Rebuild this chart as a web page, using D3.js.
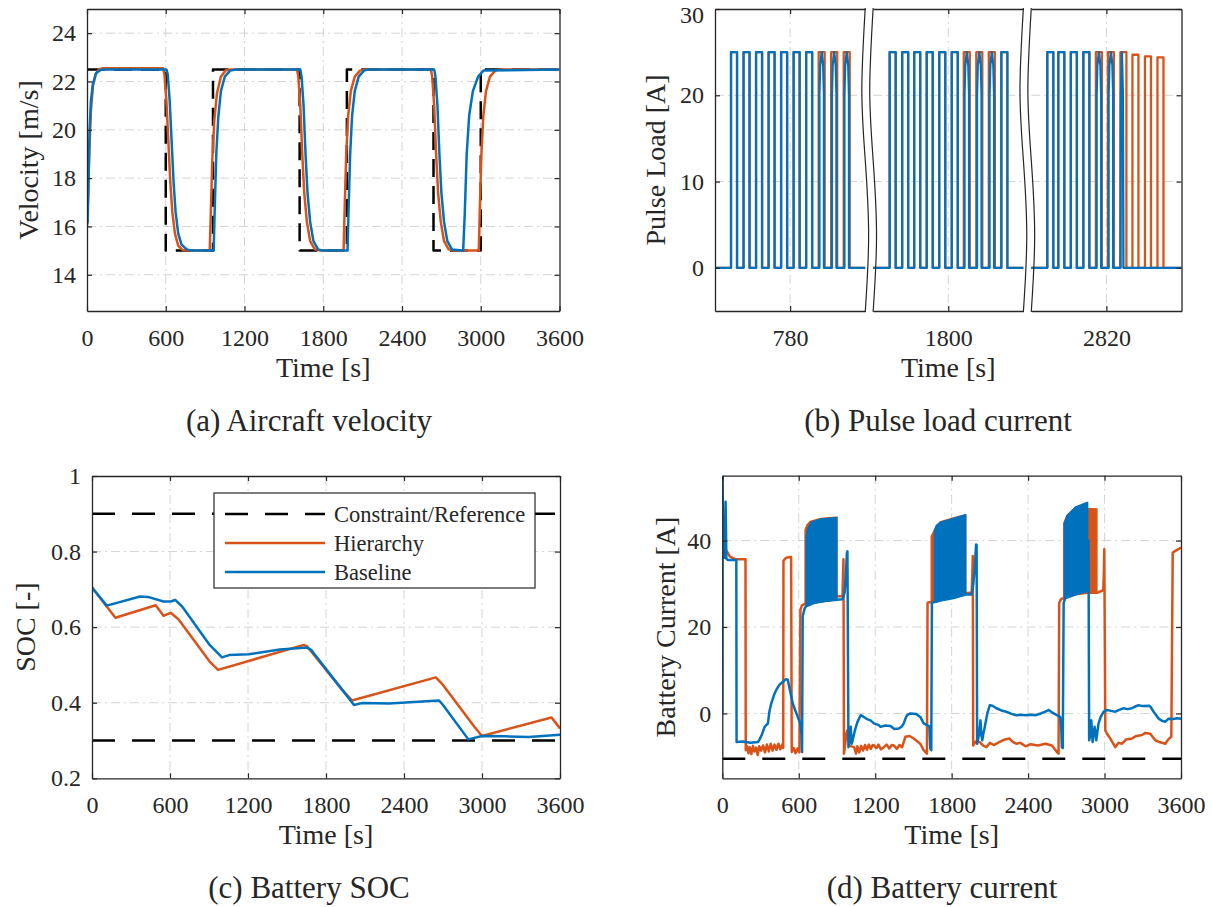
<!DOCTYPE html>
<html><head><meta charset="utf-8">
<script src="https://cdn.jsdelivr.net/npm/d3@7"></script>
<style>
html,body{margin:0;padding:0;background:#fff;}
svg text{font-family:"Liberation Serif","Times New Roman",serif;fill:#262626;}
</style></head><body><script>
// ===================== DATA =====================
const timeTicks = [0,600,1200,1800,2400,3000,3600];
const timeTickLabels = ["0","600","1200","1800","2400","3000","3600"];
const velTicks = [14,16,18,20,22,24];
const pulseTicks = [0,10,20,30];
const socTicks = [0.2,0.4,0.6,0.8,1];
const socTickLabels = ["0.2","0.4","0.6","0.8","1"];
const curTicks = [0,20,40];

// (a) velocity
const velRefT = [0,600,600,960,960,1620,1620,1980,1980,2640,2640,3000,3000,3600];
const velRef  = [22.5,22.5,15,15,22.5,22.5,15,15,22.5,22.5,15,15,22.5,22.5];
const velHierT = [0,8,18,30,45,65,90,120,580,590,605,620,635,650,670,695,730,770,935,942,955,970,990,1020,1060,1100,1600,1610,1625,1640,1655,1675,1700,1735,1780,1955,1962,1975,1990,2010,2040,2080,2120,2620,2630,2645,2660,2675,2695,2720,2755,2800,2985,2992,3005,3020,3040,3070,3110,3150,3600];
const velHier  = [16.0,17.2,19.2,20.8,21.8,22.3,22.5,22.55,22.55,22.3,21.2,19.5,17.8,16.6,15.7,15.2,15.02,15,15,16.3,18.8,20.4,21.5,22.2,22.48,22.5,22.5,22.2,21,19,17.4,16.2,15.4,15.05,15,15,16.5,19,20.6,21.6,22.2,22.45,22.5,22.5,22.2,21,19,17.4,16.2,15.4,15.05,15,15,16.5,19,20.6,21.6,22.2,22.45,22.5,22.5];
const velBaseT = [0,5,12,20,30,45,70,104,130,605,615,630,645,660,675,695,720,760,800,965,972,985,1000,1020,1050,1090,1140,1625,1635,1650,1665,1680,1700,1725,1760,1800,1985,1992,2005,2020,2040,2070,2110,2150,2645,2655,2670,2685,2700,2720,2745,2780,2860,2866,2878,2893,2912,2940,2980,3020,3600];
const velBase  = [16.1,16.2,18,20,21.2,21.9,22.35,22.48,22.5,22.5,22.3,21.2,19.5,17.8,16.6,15.7,15.25,15.05,15,15,16.5,19,20.5,21.6,22.2,22.45,22.5,22.5,22.2,21,19,17.4,16.2,15.4,15.05,15,15,16.5,19,20.6,21.6,22.2,22.45,22.5,22.5,22.2,21,19,17.4,16.2,15.4,15.05,15,15,16.5,19,20.6,21.6,22.2,22.45,22.5];

// (b) pulse load
const pulseWindowCenters = [780,1800,2820];
const pulseWindowTickLabels = ["780","1800","2820"];
const pulseWindowHalf = 150;
const pulseOnTime = 12;
const pulseHierStarts = [662,687,712,737,762,787,812,837,862,887, 1683,1708,1732,1757,1782,1807,1831,1856,1881,1906, 2702,2724,2749,2774,2799,2823,2848,2872,2897,2922];
const pulseHierTops   = [25,25,25,25,25,25,25,25,25,25, 25,25,25,25,25,25,25,25,25,25, 25,25,25,25,25,25,25,24.7,24.5,24.4];
const pulseHierShapes = Array(30).fill("flat");
const pulseBaseStarts = [662,687,712,737,762,787,812,837,862,887, 1683,1708,1732,1757,1782,1807,1831,1856,1881,1906, 2702,2724,2749,2774,2799,2823,2848];
const pulseBaseTops   = [25,25,25,25,25,25,25,25,25,25, 25,25,25,25,25,25,25,25,25,25, 25,25,25,25,25,25,25];
const pulseBaseShapes = ["flat","flat","flat","flat","flat","flat","flat","arch","arch","arch",
                         "flat","flat","flat","flat","flat","flat","arch","arch","arch","flat",
                         "flat","flat","flat","flat","arch","arch","spike"];

// (c) SOC
const socLimits = [0.9,0.3];
const socHierT = [0,180,490,550,605,665,905,970,1630,1655,1925,2000,2645,2700,2940,3000,3535,3600];
const socHier  = [0.705,0.625,0.658,0.630,0.638,0.621,0.509,0.487,0.553,0.549,0.434,0.406,0.467,0.447,0.337,0.312,0.361,0.332];
const socBaseT = [0,114,370,430,550,605,640,695,905,1000,1055,1205,1445,1655,1685,1925,2015,2075,2285,2670,2700,2895,3000,3180,3360,3600];
const socBase  = [0.705,0.657,0.681,0.680,0.668,0.668,0.672,0.654,0.553,0.520,0.526,0.528,0.541,0.546,0.540,0.434,0.394,0.399,0.398,0.406,0.394,0.303,0.312,0.311,0.309,0.315];
const legendLabels = ["Constraint/Reference","Hierarchy","Baseline"];

// (d) battery current
const curLimit = -10.5;
const curHierT = [0,10,34,60,99,182,184,195,205,215,228,240,252,265,278,290,305,320,335,350,365,380,395,410,425,440,455,470,478,480,500,540,545,560,575,590,605,613,625,645,660,720,826,904,943,951,955,965,975,982,990,1000,1034,1050,1060,1075,1090,1105,1120,1135,1150,1165,1180,1190,1210,1225,1245,1268,1290,1310,1330,1346,1370,1390,1411,1437,1470,1502,1554,1580,1606,1611,1637,1700,1814,1910,1958,1966,1969,1990,2021,2045,2073,2100,2130,2177,2210,2255,2280,2307,2340,2380,2420,2476,2535,2587,2626,2639,2644,2660,2770,2867,2940,2990,2995,2998,3006,3019,3045,3084,3110,3137,3170,3215,3250,3294,3320,3359,3380,3398,3430,3477,3500,3524,3535,3556,3600];
const curHier  = [38.8,38.3,37.6,36.3,35.7,35.7,-8.5,-7.6,-9.2,-7.8,-9.4,-7.5,-8.8,-7.9,-9.6,-7.6,-8.6,-7.4,-9.0,-7.2,-8.8,-7.0,-8.6,-7.2,-8.4,-7.0,-8.3,-7.2,-8,35.3,36,36.2,-8.9,-8,-9.2,-8.1,-9,24,25,25.3,25.5,26.2,26.8,27.1,27.1,35.7,-9.3,-7,-4.5,-3.9,-6,-7.5,-7.8,-9.3,-7.6,-9,-7.5,-8.6,-7.3,-8.4,-7.2,-8.2,-7.3,-7.4,-8,-7.2,-8.3,-7.8,-7.2,-8.1,-7.3,-7.4,-8.2,-7.3,-7.8,-5.4,-5.2,-5.8,-7,-8.5,-9.3,25.6,25.8,26.4,27,27.8,28,36.4,-7.4,-6.5,-6.6,-7.4,-7.8,-6.8,-7.3,-6.6,-6.1,-5.8,-6.6,-7,-6.8,-7.6,-7.1,-7.4,-7,-7.4,-8.9,-9.3,25.6,26.5,27.6,27.9,27.9,28.5,33,38,-3.9,-4.7,-5.8,-7.8,-6.8,-7,-6,-5.8,-5.2,-5,-4.5,-4.7,-5.5,-6.2,-6.6,-7,-6,-5.4,37.2,37.6,38.4];
const curBaseT = [0,2,8,20,26,32,45,110,112,160,220,280,293,312,332,358,370,384,405,423,445,462,485,501,514,530,553,575,592,613,622,626,631,645,657,722,826,899,943,960,969,978,982,990,1002,1008,1015,1021,1040,1060,1086,1110,1135,1163,1190,1228,1242,1280,1320,1350,1385,1410,1424,1440,1450,1476,1520,1554,1580,1606,1625,1632,1640,1645,1710,1814,1910,1956,1970,1982,1992,1996,2000,2010,2016,2026,2033,2040,2050,2060,2080,2099,2120,2151,2190,2229,2270,2307,2340,2385,2420,2456,2500,2535,2561,2590,2626,2652,2660,2665,2672,2679,2692,2770,2862,2866,2874,2879,2888,2896,2906,2915,2922,2935,2945,2953,2970,2993,3019,3050,3084,3120,3150,3180,3215,3240,3268,3300,3346,3360,3385,3405,3425,3450,3477,3503,3540,3570,3600];
const curBase  = [0,55,36,36,49,35.8,35.5,35.5,-6.6,-6.5,-6.8,-6.6,-6.0,-4.8,-3.1,-2.3,0.5,2.3,4.2,5.4,6.5,7,7.6,7.9,7.8,5.5,2.3,0.5,-0.8,-2.3,-5,-8.9,22.5,24.2,24.8,25.6,26.1,26.3,26.4,28,31.8,37.2,37.5,-7.8,-5,-3.1,-7,-6.5,-4,-2,-0.4,-0.8,-1.3,-1.6,-2.3,-2.7,-3.1,-2.8,-2.9,-3.6,-3.5,-3.0,-2.3,-1,-0.4,0,-0.1,-0.8,-2.3,-2.7,-3,-8.1,-8.5,25.6,26.1,26.7,27.5,27.5,30,34,39.1,39,-7,-5.5,-4.7,-1.6,-5,-6.2,-4.5,-3.1,0,1.9,1.8,1.2,0.7,0.4,-0.1,-0.4,-0.3,-0.4,-0.3,-0.4,0,0.4,0.8,0.2,-0.4,-0.8,-3,-7.8,-8,25.6,26.7,27.5,28.3,40,40,-6.2,-5,-1.6,-6.6,-4.5,-3.1,-6.2,-4,-2.3,-0.8,0.4,0.8,0.6,0.4,0.9,1.2,1.0,1.2,1.6,1.9,1.7,1.8,1.6,0.4,-0.4,-1.2,-1.7,-1.9,-1.2,-1.3,-1.1,-1.2];
// pulsating bands (envelopes of the fast oscillation)
const bandHierT   = [[650,665,690,774,891,899],[1640,1671,1710,1814,1904,1910],[2680,2705,2770,2862,2940]];
const bandHierTop = [[42.5,43.6,44.4,45.1,45.4,45.4],[41,42.8,44.3,45.2,45.9,45.9],[44,45.8,47.6,47.4,47.3]];
const bandHierBot = [[25.3,25.6,25.8,26.3,26.8,26.8],[25.8,26,26.4,27,27.8,27.8],[26.5,27,27.6,27.9,27.9]];
const bandBaseT   = [[657,670,696,774,891,899],[1665,1680,1710,1814,1904,1910],[2685,2705,2770,2862,2867]];
const bandBaseTop = [[41.0,42.8,44.2,45.0,45.3,45.3],[42.3,43.5,44.2,45.1,45.9,45.9],[44,45.7,47.7,48.8,48.8]];
const bandBaseBot = [[24.8,25.2,25.4,25.8,26.3,26.3],[25.7,25.8,26.1,26.7,27.5,27.5],[26.5,26.8,27.5,28.3,28.3]];

// ===================== STYLE =====================
const BLUE = "#0072BD", ORANGE = "#D95319", AX = "#262626", GRID = "#d4d4d4";
const FONT = '"Liberation Serif","Times New Roman",serif';
const LW = 2.5;
const zip = (a,b) => a.map((t,i)=>[t,b[i]]);

const svg = d3.select("body").append("svg").attr("width",1212).attr("height",907);

function styleAxis(sel, fs){
  sel.attr("color",AX);
  sel.selectAll("path.domain").attr("stroke-width",1.3);
  sel.selectAll(".tick line").attr("stroke-width",1.2);
  sel.selectAll("text").style("font-family",FONT).style("font-size",fs+"px").attr("fill",AX);
}
function gridLines(g, xs, ys, x, y, x0,x1,y0,y1){
  g.selectAll(null).data(xs).join("line")
    .attr("x1",d=>x(d)).attr("x2",d=>x(d)).attr("y1",y0).attr("y2",y1)
    .attr("stroke",GRID).attr("stroke-width",1).attr("stroke-dasharray","9,4,2,4");
  g.selectAll(null).data(ys).join("line")
    .attr("x1",x0).attr("x2",x1).attr("y1",d=>y(d)).attr("y2",d=>y(d))
    .attr("stroke",GRID).attr("stroke-width",1).attr("stroke-dasharray","9,4,2,4");
}
let clipN = 0;
function clip(x0,y0,w,h){
  const id = "clp"+(clipN++);
  svg.append("clipPath").attr("id",id).append("rect").attr("x",x0).attr("y",y0).attr("width",w).attr("height",h);
  return `url(#${id})`;
}
function panel(o){
  const x = d3.scaleLinear(o.xd,[o.x0,o.x1]);
  const y = d3.scaleLinear(o.yd,[o.y1,o.y0]);
  const g = svg.append("g");
  gridLines(g.append("g"), o.xt.filter(v=>v>o.xd[0]&&v<o.xd[1]), o.yt.filter(v=>v>o.yd[0]&&v<o.yd[1]), x,y,o.x0,o.x1,o.y0,o.y1);
  const plot = g.append("g").attr("clip-path", clip(o.x0,o.y0,o.x1-o.x0,o.y1-o.y0));
  o.draw(plot,x,y);
  const bx = g.append("g").attr("transform",`translate(0,${o.y1})`)
    .call(d3.axisBottom(x).tickValues(o.xt).tickSize(-5).tickSizeOuter(0).tickPadding(18).tickFormat((d,i)=>o.xtl[i]));
  styleAxis(bx,24);
  const tx = g.append("g").attr("transform",`translate(0,${o.y0})`)
    .call(d3.axisTop(x).tickValues(o.xt).tickSize(-5).tickSizeOuter(0).tickFormat(""));
  styleAxis(tx,24);
  const ly = g.append("g").attr("transform",`translate(${o.x0},0)`)
    .call(d3.axisLeft(y).tickValues(o.yt).tickSize(-5).tickSizeOuter(0).tickPadding(11).tickFormat((d,i)=>o.ytl?o.ytl[i]:String(d)));
  styleAxis(ly,24);
  const ry = g.append("g").attr("transform",`translate(${o.x1},0)`)
    .call(d3.axisRight(y).tickValues(o.yt).tickSize(-5).tickSizeOuter(0).tickFormat(""));
  styleAxis(ry,24);
  labels(o);
  return {x,y,g};
}
function labels(o){
  svg.append("text").attr("x",(o.x0+o.x1)/2).attr("y",o.y1+66).attr("text-anchor","middle")
    .style("font-size","28px").text("Time [s]");
  svg.append("text").attr("transform",`translate(${o.ylx},${(o.y0+o.y1)/2}) rotate(-90)`)
    .attr("text-anchor","middle").attr("dy","0.35em").style("font-size","28px").text(o.ylabel);
  svg.append("text").attr("x",o.capx).attr("y",o.y1+120).attr("text-anchor","middle")
    .style("font-size","31px").text(o.caption);
}
function path(g, pts, x, y, color, w, dash){
  const p = g.append("path").datum(pts).attr("fill","none").attr("stroke",color)
    .attr("stroke-width",w).attr("stroke-linejoin","round")
    .attr("d", d3.line().x(d=>x(d[0])).y(d=>y(d[1])));
  if (dash) p.attr("stroke-dasharray",dash);
  return p;
}

// ---------- (a) ----------
panel({x0:87,x1:559.5,y0:9,y1:311,xd:[0,3600],yd:[12.5,25],xt:timeTicks,xtl:timeTickLabels,yt:velTicks,
  ylabel:"Velocity [m/s]",ylx:28,caption:"(a) Aircraft velocity",capx:309,
  draw:(g,x,y)=>{
    path(g, zip(velRefT,velRef), x,y,"#000",LW,"18,9");
    path(g, zip(velHierT,velHier), x,y,ORANGE,LW);
    path(g, zip(velBaseT,velBase), x,y,BLUE,LW);
  }});

// ---------- (b) broken axis ----------
function buildPulses(starts, tops, shapes, on){
  const pts = [[0,0]];
  starts.forEach((s,i)=>{
    const h = tops[i];
    if (shapes[i]==="arch") pts.push([s+1.5,0],[s+1.5,0.8*h],[s+3,0.94*h],[s+on/2,h],[s+on-3,0.94*h],[s+on-1.5,0.8*h],[s+on-1.5,0]);
    else if (shapes[i]==="spike") pts.push([s,0],[s+1,0.8*h],[s+3,h],[s+5,0.8*h],[s+6,0]);
    else pts.push([s,0],[s,h],[s+on,h],[s+on,0]);
  });
  pts.push([3600,0]);
  return pts;
}
(function(){
  const X0 = 715, X1 = 1181.5, Y0 = 9, Y1 = 311, gap = 7.9;
  const segW = (X1-X0-2*gap)/3;
  const y = d3.scaleLinear([-5,30],[Y1,Y0]);
  const hier = buildPulses(pulseHierStarts,pulseHierTops,pulseHierShapes,pulseOnTime);
  const base = buildPulses(pulseBaseStarts,pulseBaseTops,pulseBaseShapes,pulseOnTime);
  const g = svg.append("g");
  pulseWindowCenters.forEach((c,i)=>{
    const sx0 = X0 + i*(segW+gap), sx1 = sx0+segW;
    const x = d3.scaleLinear([c-pulseWindowHalf,c+pulseWindowHalf],[sx0,sx1]);
    gridLines(g.append("g"), [c], [0,10,20], x, y, sx0, sx1, Y0, Y1);
    const pg = g.append("g").attr("clip-path", clip(sx0,Y0,segW,Y1-Y0));
    path(pg, hier, x,y,ORANGE,2.3);
    path(pg, base, x,y,BLUE,2.3);
    const bx = g.append("g").attr("transform",`translate(0,${Y1})`)
      .call(d3.axisBottom(x).tickValues([c]).tickSize(-5).tickSizeOuter(0).tickPadding(18).tickFormat(()=>pulseWindowTickLabels[i]));
    styleAxis(bx,24);
    const tx = g.append("g").attr("transform",`translate(0,${Y0})`)
      .call(d3.axisTop(x).tickValues([c]).tickSize(-5).tickSizeOuter(0).tickFormat(""));
    styleAxis(tx,24);
    if (i===0){
      const ly = g.append("g").attr("transform",`translate(${sx0},0)`)
        .call(d3.axisLeft(y).tickValues(pulseTicks).tickSize(-5).tickSizeOuter(0).tickPadding(11).tickFormat(d=>String(d)));
      styleAxis(ly,24);
      // keep the topmost label inside the picture
      ly.selectAll(".tick text").filter(d=>d===d3.max(pulseTicks)).attr("dy","0.56em");
    }
    if (i===2){
      const ry = g.append("g").attr("transform",`translate(${sx1},0)`)
        .call(d3.axisRight(y).tickValues(pulseTicks).tickSize(-5).tickSizeOuter(0).tickFormat(""));
      styleAxis(ry,24);
    }
    // wavy break edges
    const wave = [[0,0],[-3.4,0.27],[0,0.5],[3.4,0.75],[0,1]];
    const edges = [];
    if (i>0) edges.push(sx0);
    if (i<2) edges.push(sx1);
    edges.forEach(ex=>{
      g.append("path").datum(wave).attr("fill","none").attr("stroke",AX).attr("stroke-width",1.2)
        .attr("d", d3.line().curve(d3.curveNatural).x(d=>ex+d[0]).y(d=>Y0-1+d[1]*(Y1-Y0+2)));
    });
  });
  labels({x0:X0,x1:X1,y0:Y0,y1:Y1,ylx:655,ylabel:"Pulse Load [A]",caption:"(b) Pulse load current",capx:938});
})();

// ---------- (c) ----------
panel({x0:92,x1:560,y0:476,y1:778.3,xd:[0,3600],yd:[0.2,1],xt:timeTicks,xtl:timeTickLabels,yt:socTicks,ytl:socTickLabels,
  ylabel:"SOC [-]",ylx:25,caption:"(c) Battery SOC",capx:309,
  draw:(g,x,y)=>{
    socLimits.forEach(v=>path(g, [[0,v],[3600,v]], x,y,"#000",LW,"23,17"));
    path(g, zip(socHierT,socHier), x,y,ORANGE,LW);
    path(g, zip(socBaseT,socBase), x,y,BLUE,LW);
  }});
(function(){
  const lg = svg.append("g");
  lg.append("rect").attr("x",214).attr("y",493).attr("width",321).attr("height",95)
    .attr("fill","#fff").attr("stroke",AX).attr("stroke-width",1.2);
  const cols = ["#000",ORANGE,BLUE], dashes = ["23,17",null,null], ys = [514,543,572];
  legendLabels.forEach((t,i)=>{
    const l = lg.append("line").attr("x1",225).attr("x2",325).attr("y1",ys[i]).attr("y2",ys[i])
      .attr("stroke",cols[i]).attr("stroke-width",LW);
    if (dashes[i]) l.attr("stroke-dasharray",dashes[i]);
    lg.append("text").attr("x",334).attr("y",ys[i]).attr("dy","0.35em").style("font-size","22.5px").text(t);
  });
})();

// ---------- (d) ----------
panel({x0:722.3,x1:1181,y0:475.7,y1:778.3,xd:[0,3600],yd:[-15,55],xt:timeTicks,xtl:timeTickLabels,yt:curTicks,
  ylabel:"Battery Current [A]",ylx:665,caption:"(d) Battery current",capx:942,
  draw:(g,x,y)=>{
    path(g, [[0,curLimit],[3600,curLimit]], x,y,"#000",LW,"23,17");
    const area = d3.area().x(d=>x(d[0])).y0(d=>y(d[1])).y1(d=>y(d[2]));
    bandHierT.forEach((ts,k)=>{
      g.append("path").datum(ts.map((t,j)=>[t,bandHierBot[k][j],bandHierTop[k][j]]))
        .attr("fill",ORANGE).attr("stroke",ORANGE).attr("stroke-width",1.5).attr("d",area);
    });
    path(g, zip(curHierT,curHier), x,y,ORANGE,LW);
    bandBaseT.forEach((ts,k)=>{
      g.append("path").datum(ts.map((t,j)=>[t,bandBaseBot[k][j],bandBaseTop[k][j]]))
        .attr("fill",BLUE).attr("stroke",BLUE).attr("stroke-width",1.5).attr("d",area);
    });
    path(g, zip(curBaseT,curBase), x,y,BLUE,LW);
  }});
</script></body></html>
